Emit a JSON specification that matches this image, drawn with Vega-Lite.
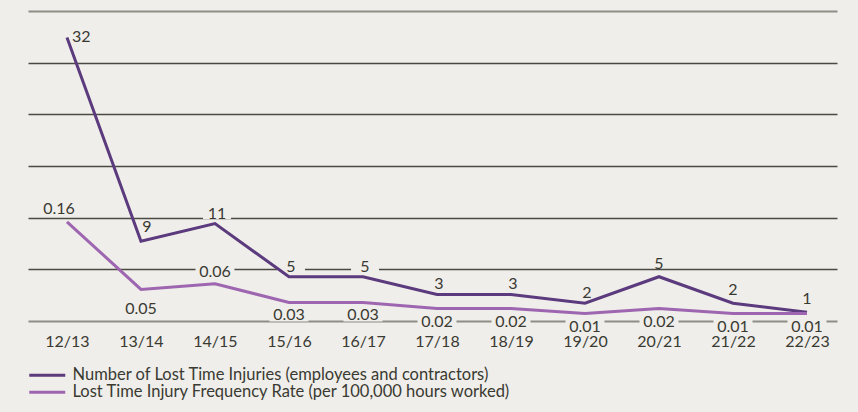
{
  "$schema": "https://vega.github.io/schema/vega-lite/v6.json",
  "width": 809,
  "height": 310,
  "autosize": {"type": "none"},
  "padding": {"left": 28, "top": 11, "right": 21, "bottom": 91},
  "background": "#efeeea",
  "config": {
    "view": {"stroke": null},
    "font": "Lato",
    "text": {"font": "Lato", "fontSize": 16, "color": "#3a3a32"}
  },
  "data": {
    "values": [
      {"period": "12/13", "series": "Number of Lost Time Injuries (employees and contractors)", "value": 32, "label": "32"},
      {"period": "13/14", "series": "Number of Lost Time Injuries (employees and contractors)", "value": 9, "label": "9"},
      {"period": "14/15", "series": "Number of Lost Time Injuries (employees and contractors)", "value": 11, "label": "11"},
      {"period": "15/16", "series": "Number of Lost Time Injuries (employees and contractors)", "value": 5, "label": "5"},
      {"period": "16/17", "series": "Number of Lost Time Injuries (employees and contractors)", "value": 5, "label": "5"},
      {"period": "17/18", "series": "Number of Lost Time Injuries (employees and contractors)", "value": 3, "label": "3"},
      {"period": "18/19", "series": "Number of Lost Time Injuries (employees and contractors)", "value": 3, "label": "3"},
      {"period": "19/20", "series": "Number of Lost Time Injuries (employees and contractors)", "value": 2, "label": "2"},
      {"period": "20/21", "series": "Number of Lost Time Injuries (employees and contractors)", "value": 5, "label": "5"},
      {"period": "21/22", "series": "Number of Lost Time Injuries (employees and contractors)", "value": 2, "label": "2"},
      {"period": "22/23", "series": "Number of Lost Time Injuries (employees and contractors)", "value": 1, "label": "1"},
      {"period": "12/13", "series": "Lost Time Injury Frequency Rate (per 100,000 hours worked)", "value": 0.16, "label": "0.16"},
      {"period": "13/14", "series": "Lost Time Injury Frequency Rate (per 100,000 hours worked)", "value": 0.051, "label": "0.05"},
      {"period": "14/15", "series": "Lost Time Injury Frequency Rate (per 100,000 hours worked)", "value": 0.06, "label": "0.06"},
      {"period": "15/16", "series": "Lost Time Injury Frequency Rate (per 100,000 hours worked)", "value": 0.03, "label": "0.03"},
      {"period": "16/17", "series": "Lost Time Injury Frequency Rate (per 100,000 hours worked)", "value": 0.03, "label": "0.03"},
      {"period": "17/18", "series": "Lost Time Injury Frequency Rate (per 100,000 hours worked)", "value": 0.02, "label": "0.02"},
      {"period": "18/19", "series": "Lost Time Injury Frequency Rate (per 100,000 hours worked)", "value": 0.02, "label": "0.02"},
      {"period": "19/20", "series": "Lost Time Injury Frequency Rate (per 100,000 hours worked)", "value": 0.012, "label": "0.01"},
      {"period": "20/21", "series": "Lost Time Injury Frequency Rate (per 100,000 hours worked)", "value": 0.02, "label": "0.02"},
      {"period": "21/22", "series": "Lost Time Injury Frequency Rate (per 100,000 hours worked)", "value": 0.012, "label": "0.01"},
      {"period": "22/23", "series": "Lost Time Injury Frequency Rate (per 100,000 hours worked)", "value": 0.012, "label": "0.01"}
    ]
  },
  "encoding": {
    "x": {
      "field": "period",
      "type": "ordinal",
      "scale": {
        "type": "point",
        "domain": ["12/13", "13/14", "14/15", "15/16", "16/17", "17/18", "18/19", "19/20", "20/21", "21/22", "22/23"],
        "padding": 0.466,
        "align": 0.565
      },
      "axis": {
        "title": null,
        "domain": false,
        "ticks": false,
        "tickSize": 0,
        "grid": false,
        "labelAngle": 0,
        "labelPadding": 12,
        "labelFont": "Lato",
        "labelFontSize": 16,
        "labelColor": "#3a3a32"
      }
    }
  },
  "layer": [
    {
      "transform": [
        {"filter": "datum.series === 'Number of Lost Time Injuries (employees and contractors)'"},
        {"filter": {"field": "period", "oneOf": ["14/15", "15/16", "16/17", "17/18", "18/19", "19/20"]}}
      ],
      "mark": {"type": "point", "shape": "M-1.2,-2.0H1.6V-0.45H-1.2Z", "size": 400, "filled": true, "color": "#efeeea", "opacity": 1, "strokeWidth": 0},
      "encoding": {
        "y": {
          "field": "value",
          "type": "quantitative",
          "scale": {"domain": [0, 35], "nice": false, "zero": true},
          "axis": {
            "values": [0, 5.8333, 11.6667, 17.5, 23.3333, 29.1667, 35],
            "grid": true,
            "gridColor": {"condition": {"test": "datum.value < 1 || datum.value > 34", "value": "#8e8d86"}, "value": "#4a4a42"},
            "gridWidth": {"condition": {"test": "datum.value < 1 || datum.value > 34", "value": 2}, "value": 1.5},
            "labels": false,
            "ticks": false,
            "domain": false,
            "title": null
          }
        }
      }
    },
    {
      "transform": [
        {"filter": "datum.series === 'Lost Time Injury Frequency Rate (per 100,000 hours worked)'"},
        {"filter": {"field": "period", "oneOf": ["15/16", "16/17", "17/18", "18/19", "19/20", "20/21", "21/22", "22/23"]}}
      ],
      "mark": {"type": "point", "shape": "M-1.95,0.3H1.95V1.9H-1.95Z", "size": 400, "filled": true, "color": "#efeeea", "opacity": 1, "strokeWidth": 0},
      "encoding": {
        "y": {"field": "value", "type": "quantitative", "scale": {"domain": [0, 0.5], "nice": false, "zero": true}, "axis": null}
      }
    },
    {
      "transform": [
        {"filter": "datum.series === 'Lost Time Injury Frequency Rate (per 100,000 hours worked)'"},
        {"filter": {"field": "period", "oneOf": ["14/15"]}}
      ],
      "mark": {"type": "point", "shape": "M-1.95,-2.2H1.95V-0.7H-1.95Z", "size": 400, "filled": true, "color": "#efeeea", "opacity": 1, "strokeWidth": 0},
      "encoding": {
        "y": {"field": "value", "type": "quantitative", "scale": {"domain": [0, 0.5], "nice": false, "zero": true}, "axis": null}
      }
    },
    {
      "transform": [
        {"filter": "datum.series === 'Number of Lost Time Injuries (employees and contractors)'"}
      ],
      "mark": {"type": "line", "strokeWidth": 3, "strokeJoin": "miter"},
      "encoding": {
        "y": {"field": "value", "type": "quantitative", "scale": {"domain": [0, 35], "nice": false, "zero": true}, "axis": null},
        "color": {
          "field": "series",
          "type": "nominal",
          "sort": null,
          "scale": {
            "domain": ["Number of Lost Time Injuries (employees and contractors)", "Lost Time Injury Frequency Rate (per 100,000 hours worked)"],
            "range": ["#5b3a7d", "#9e66b0"]
          },
          "legend": {
            "title": null,
            "orient": "none",
            "legendX": 11,
            "legendY": 356,
            "padding": 0,
            "symbolType": "M-3,0H3",
            "symbolSize": 144,
            "symbolStrokeWidth": 3,
            "symbolFillColor": "transparent",
            "labelOffset": 17,
            "labelFont": "Lato",
            "labelFontSize": 16.5,
            "labelColor": "#3a3a32",
            "labelLimit": 0,
            "rowPadding": -3.5
          }
        }
      }
    },
    {
      "transform": [
        {"filter": "datum.series === 'Lost Time Injury Frequency Rate (per 100,000 hours worked)'"}
      ],
      "mark": {"type": "line", "strokeWidth": 3, "strokeJoin": "miter"},
      "encoding": {
        "y": {"field": "value", "type": "quantitative", "scale": {"domain": [0, 0.5], "nice": false, "zero": true}, "axis": null},
        "color": {"field": "series", "type": "nominal", "sort": null}
      }
    },
    {
      "transform": [
        {"filter": "datum.series === 'Number of Lost Time Injuries (employees and contractors)'"},
        {"filter": {"field": "period", "oneOf": ["14/15", "15/16", "16/17", "17/18", "18/19", "19/20"]}}
      ],
      "mark": {"type": "text", "baseline": "alphabetic", "align": "center", "dy": -5, "dx": 2},
      "encoding": {
        "y": {"field": "value", "type": "quantitative", "scale": {"domain": [0, 35], "nice": false, "zero": true}, "axis": null},
        "text": {"field": "label"}
      }
    },
    {
      "transform": [
        {"filter": "datum.series === 'Number of Lost Time Injuries (employees and contractors)'"},
        {"filter": {"field": "period", "oneOf": ["20/21", "21/22", "22/23"]}}
      ],
      "mark": {"type": "text", "baseline": "alphabetic", "align": "center", "dy": -8},
      "encoding": {
        "y": {"field": "value", "type": "quantitative", "scale": {"domain": [0, 35], "nice": false, "zero": true}, "axis": null},
        "text": {"field": "label"}
      }
    },
    {
      "transform": [
        {"filter": "datum.series === 'Number of Lost Time Injuries (employees and contractors)'"},
        {"filter": {"field": "period", "oneOf": ["13/14"]}}
      ],
      "mark": {"type": "text", "baseline": "alphabetic", "align": "center", "dy": -9, "dx": 6},
      "encoding": {
        "y": {"field": "value", "type": "quantitative", "scale": {"domain": [0, 35], "nice": false, "zero": true}, "axis": null},
        "text": {"field": "label"}
      }
    },
    {
      "transform": [
        {"filter": "datum.series === 'Number of Lost Time Injuries (employees and contractors)'"},
        {"filter": {"field": "period", "oneOf": ["12/13"]}}
      ],
      "mark": {"type": "text", "baseline": "middle", "align": "left", "dx": 5, "dy": -1},
      "encoding": {
        "y": {"field": "value", "type": "quantitative", "scale": {"domain": [0, 35], "nice": false, "zero": true}, "axis": null},
        "text": {"field": "label"}
      }
    },
    {
      "transform": [
        {"filter": "datum.series === 'Lost Time Injury Frequency Rate (per 100,000 hours worked)'"},
        {"filter": {"field": "period", "oneOf": ["12/13"]}}
      ],
      "mark": {"type": "text", "baseline": "alphabetic", "align": "center", "dy": -8, "dx": -8},
      "encoding": {
        "y": {"field": "value", "type": "quantitative", "scale": {"domain": [0, 0.5], "nice": false, "zero": true}, "axis": null},
        "text": {"field": "label"}
      }
    },
    {
      "transform": [
        {"filter": "datum.series === 'Lost Time Injury Frequency Rate (per 100,000 hours worked)'"},
        {"filter": {"field": "period", "oneOf": ["14/15"]}}
      ],
      "mark": {"type": "text", "baseline": "alphabetic", "align": "center", "dy": -7},
      "encoding": {
        "y": {"field": "value", "type": "quantitative", "scale": {"domain": [0, 0.5], "nice": false, "zero": true}, "axis": null},
        "text": {"field": "label"}
      }
    },
    {
      "transform": [
        {"filter": "datum.series === 'Lost Time Injury Frequency Rate (per 100,000 hours worked)'"},
        {"filter": {"field": "period", "oneOf": ["13/14"]}}
      ],
      "mark": {"type": "text", "baseline": "alphabetic", "align": "center", "dy": 25},
      "encoding": {
        "y": {"field": "value", "type": "quantitative", "scale": {"domain": [0, 0.5], "nice": false, "zero": true}, "axis": null},
        "text": {"field": "label"}
      }
    },
    {
      "transform": [
        {"filter": "datum.series === 'Lost Time Injury Frequency Rate (per 100,000 hours worked)'"},
        {"filter": {"field": "period", "oneOf": ["15/16", "16/17", "17/18", "18/19", "19/20", "20/21", "21/22", "22/23"]}}
      ],
      "mark": {"type": "text", "baseline": "alphabetic", "align": "center", "dy": 18},
      "encoding": {
        "y": {"field": "value", "type": "quantitative", "scale": {"domain": [0, 0.5], "nice": false, "zero": true}, "axis": null},
        "text": {"field": "label"}
      }
    }
  ],
  "resolve": {"scale": {"y": "independent"}}
}
